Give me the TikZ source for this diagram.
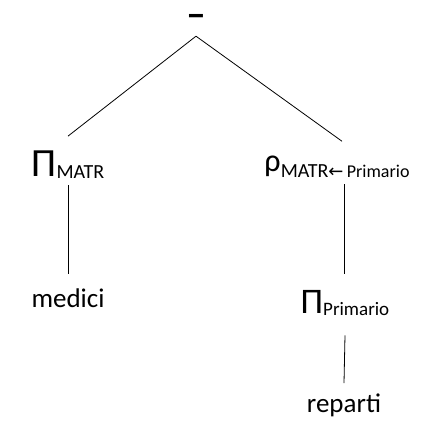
\documentclass[tikz,border=0pt]{standalone}
\usepackage{fontspec}
\setmainfont{Carlito}
\newfontfamily\arrowfont{DejaVu Sans}
\newcommand{\fs}[1]{\fontsize{#1}{#1}\selectfont}
\begin{document}
\begin{tikzpicture}[x=1pt,y=-1pt,
  lbl/.style={inner sep=0pt, anchor=base},
  edge/.style={draw=black, line width=0.8pt}]
\useasboundingbox (0,0) rectangle (431,430);
\node[lbl] (minus) at (196,28) {\fs{36}\textbf{−}};
\node[lbl] (pimatr) at (68,177) {\fs{40}Π\raisebox{-2pt}{\fs{20}MATR}};
\node[lbl] (rho) at (337,172) {\fs{32}ρ\raisebox{-6pt}{\fs{20}MATR{\arrowfont\fs{18}←}\,\fs{18}Primario}};
\node[lbl] (medici) at (68,308) {\fs{27}medici};
\node[lbl] (piprim) at (345,313) {\fs{36}Π\raisebox{-2pt}{\fs{19}Primario}};
\node[lbl] (reparti) at (344,412) {\fs{27}reparti};
\draw[edge] ([yshift=-8pt]minus.south) -- ([yshift=15pt]pimatr.north);
\draw[edge] ([yshift=-8pt]minus.south) -- ([xshift=5pt,yshift=15pt]rho.north);
\draw[edge] ([yshift=-6pt]pimatr.south) -- ([yshift=15pt]medici.north);
\draw[edge] ([xshift=7pt,yshift=-6pt]rho.south) -- ([xshift=-1pt,yshift=16pt]piprim.north);
\draw[edge] ([yshift=-20pt]piprim.south) -- ([yshift=10pt]reparti.north);
\end{tikzpicture}
\end{document}
